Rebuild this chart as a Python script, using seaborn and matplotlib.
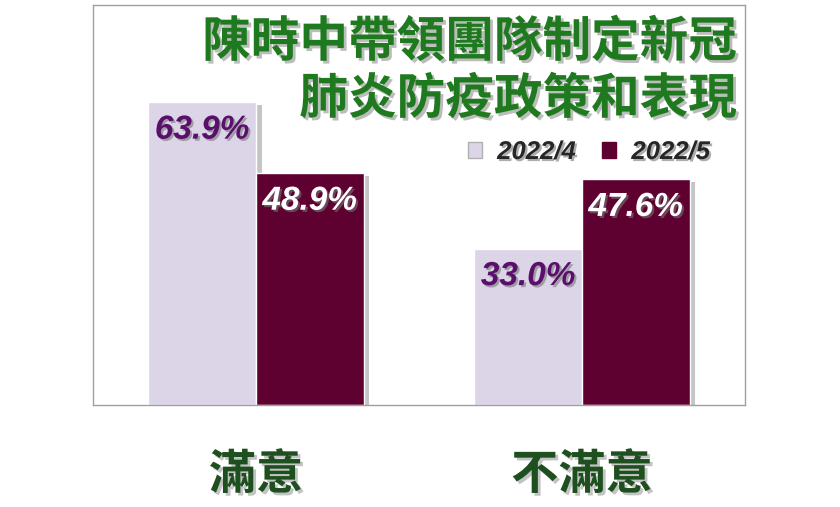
import pandas as pd
import matplotlib
matplotlib.use("Agg")
import matplotlib.pyplot as plt
import matplotlib.patheffects as pe
from matplotlib.patches import Patch
import seaborn as sns

# Data
categories = ["滿意", "不滿意"]
periods = ["2022/4", "2022/5"]
values_apr = [63.9, 33.0]
values_may = [48.9, 47.6]
title_lines = ["陳時中帶領團隊制定新冠", "肺炎防疫政策和表現"]

colors = {"2022/4": "#DCD5E7", "2022/5": "#5E0030"}
label_colors = {"2022/4": "#5A0F6C", "2022/5": "#FFFFFF"}

df = pd.DataFrame({
    "category": categories * 2,
    "period": [periods[0]] * len(categories) + [periods[1]] * len(categories),
    "value": values_apr + values_may,
})

sns.set_style("white")
plt.rcParams['font.family'] = ['Noto Sans CJK TC', 'DejaVu Sans']
num_font = ['Liberation Sans', 'DejaVu Sans']

fig = plt.figure(figsize=(8.4, 5.07), dpi=100)
ax = fig.add_axes([93 / 840, 1 - 405 / 507, (745 - 93) / 840, (405 - 5) / 507])

sns.barplot(data=df, x="category", y="value", hue="period", order=categories,
            hue_order=periods, palette=colors, width=0.66, saturation=1,
            ax=ax, legend=False)

bar_shadow = [pe.SimplePatchShadow(offset=(4, -2), shadow_rgbFace="#808080", alpha=0.45), pe.Normal()]
text_shadow = [pe.SimplePatchShadow(offset=(1.5, -1.5), shadow_rgbFace="#777777", alpha=0.6), pe.Normal()]

for container, period in zip(ax.containers, periods):
    for bar in container:
        bar.set_path_effects(bar_shadow)
        h = bar.get_height()
        ax.annotate(f"{h:.1f}%", (bar.get_x() + bar.get_width() / 2, h),
                    xytext=(0, -9), textcoords="offset points",
                    ha="center", va="top", fontsize=24, fontweight="bold",
                    fontstyle="italic", family=num_font,
                    color=label_colors[period], path_effects=text_shadow)

ax.set_xlim(-0.5, 1.5)
ax.set_ylim(0, 84.4)
ax.set_yticks([])
ax.set_xlabel("")
ax.set_ylabel("")
for s in ax.spines.values():
    s.set_visible(True)
    s.set_color("#A0A0A0")
    s.set_linewidth(1.0)

ax.tick_params(axis="x", length=0, pad=33)
for lbl in ax.get_xticklabels():
    lbl.set_fontsize(34)
    lbl.set_fontweight("bold")
    lbl.set_color("#1E4F1E")
    lbl.set_path_effects([pe.SimplePatchShadow(offset=(2, -2), shadow_rgbFace="#888888", alpha=0.5), pe.Normal()])

# Title
title_fx = [pe.SimplePatchShadow(offset=(2, -2), shadow_rgbFace="#7A7A7A", alpha=0.5), pe.Normal()]
fig.text(737 / 840, 1 - 42 / 507, title_lines[0], ha="right", va="center",
         fontsize=35, fontweight="bold", color="#1F7A1F", path_effects=title_fx)
fig.text(737 / 840, 1 - 99 / 507, title_lines[1], ha="right", va="center",
         fontsize=35, fontweight="bold", color="#1F7A1F", path_effects=title_fx)

# Legend
handles = [Patch(facecolor=colors[p], edgecolor="#B0B0B0" if p == "2022/4" else colors[p]) for p in periods]
leg = fig.legend(handles, periods, loc="center", bbox_to_anchor=(589 / 840, 1 - 152 / 507),
                 ncol=2, frameon=False, handlelength=0.55, handleheight=0.55,
                 handletextpad=0.6, columnspacing=1.0,
                 prop={"family": num_font, "size": 18.5, "weight": "bold", "style": "italic"})
for t in leg.get_texts():
    t.set_path_effects(text_shadow)

fig.savefig("out.png", dpi=100, facecolor="white")
